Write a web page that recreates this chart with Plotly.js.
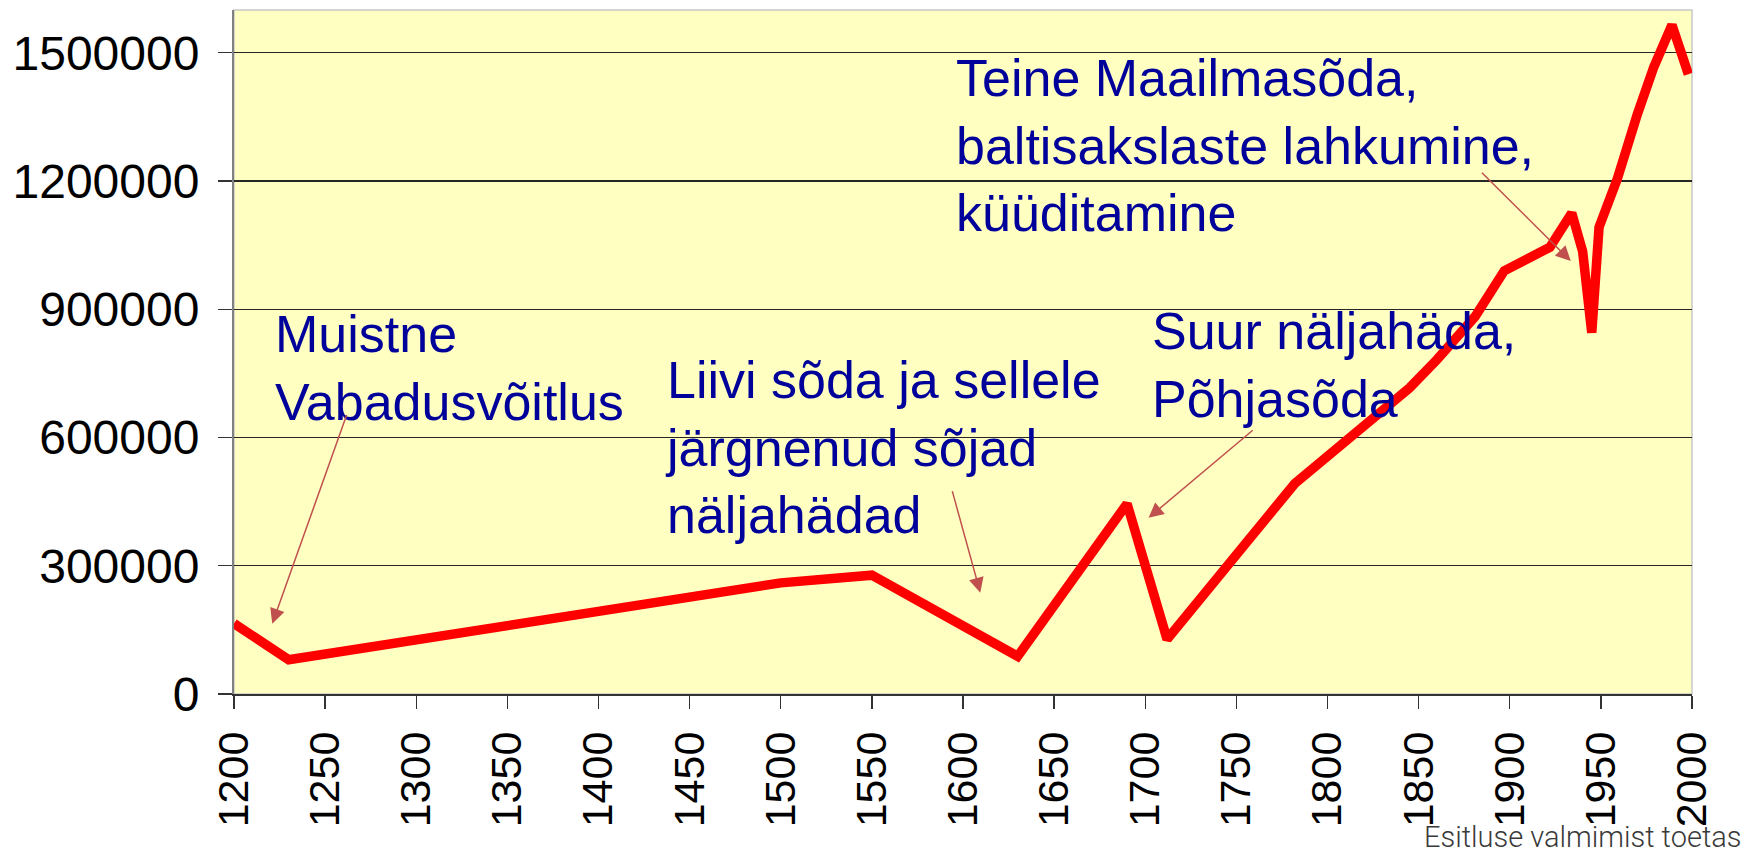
<!DOCTYPE html>
<html>
<head>
<meta charset="utf-8">
<script src="https://cdn.plot.ly/plotly-3.0.1.min.js"></script>
<style>
  html, body { margin: 0; padding: 0; background: #ffffff; }
  #chart { width: 1757px; height: 857px; }
</style>
</head>
<body>
<div id="chart"></div>
<script>
// Estonian population over time
const years = [1200, 1230, 1500, 1550, 1630, 1690, 1712, 1782, 1845, 1860, 1881, 1897, 1922, 1934, 1940, 1945, 1949, 1959, 1970, 1979, 1989, 1998];
const population = [165000, 80000, 260000, 278000, 88000, 445000, 128000, 492000, 716000, 782000, 883000, 990000, 1045000, 1125000, 1035000, 845000, 1092000, 1205000, 1356000, 1466000, 1565000, 1450000];

const xTickValues = [1200, 1250, 1300, 1350, 1400, 1450, 1500, 1550, 1600, 1650, 1700, 1750, 1800, 1850, 1900, 1950, 2000];
const yTickValues = [0, 300000, 600000, 900000, 1200000, 1500000];

// Event labels: [text, left year, top value]
const eventLabels = [
  ["Muistne<br>Vabadusvõitlus", 1221.5, 914000],
  ["Liivi sõda ja sellele<br>järgnenud sõjad<br>näljahädad", 1435.5, 808000],
  ["Teine Maailmasõda,<br>baltisakslaste lahkumine,<br>küüditamine", 1594.8, 1514000],
  ["Suur näljahäda,<br>Põhjasõda", 1702.5, 922000]
];
// Arrows: [head year, head value, tail year, tail value]
const eventArrows = [
  [1221.0, 164600, 1262.1, 656000],
  [1609.5, 237000, 1593.9, 478000],
  [1701.8, 412000, 1759.8, 620000],
  [1933.5, 1012600, 1883.9, 1223000]
];
const creditText = "Esitluse valmimist toetas";

const annotations = [];
eventLabels.forEach(l => annotations.push({
  text: l[0], x: l[1], y: l[2], xref: 'x', yref: 'y',
  xanchor: 'left', yanchor: 'top', align: 'left', showarrow: false,
  font: { family: 'Arial, "Liberation Sans", sans-serif', size: 52, color: '#00009a' }
}));
eventArrows.forEach(a => annotations.push({
  text: '', x: a[0], y: a[1], ax: a[2], ay: a[3],
  xref: 'x', yref: 'y', axref: 'x', ayref: 'y',
  showarrow: true, arrowhead: 2, arrowsize: 2, arrowwidth: 1.5,
  arrowcolor: '#c0504d', standoff: 0, startstandoff: 0
}));
annotations.push({
  text: creditText, xref: 'paper', yref: 'paper', x: 1.0343, y: -0.2355,
  xanchor: 'right', yanchor: 'bottom', showarrow: false, borderpad: 0,
  font: { family: 'Roboto, sans-serif', size: 29, color: '#3a3a3a', weight: 300 }
});

const trace = {
  x: years, y: population, type: 'scatter', mode: 'lines',
  line: { color: '#ff0000', width: 9.5 },
  hoverinfo: 'skip'
};

const layout = {
  width: 1757, height: 857,
  margin: { l: 234, r: 65, t: 10, b: 163, pad: 0 },
  paper_bgcolor: '#ffffff',
  plot_bgcolor: '#ffffc2',
  showlegend: false,
  xaxis: {
    range: [1200, 2000], tickmode: 'array', tickvals: xTickValues,
    ticktext: xTickValues.map(String), tickangle: -90,
    ticks: 'outside', ticklen: 13, tickcolor: '#333333', tickwidth: 1.3,
    ticklabelstandoff: 6,
    showgrid: false, zeroline: false,
    showline: true, linecolor: '#333333', linewidth: 1.5,
    tickfont: { family: 'Arial, "Liberation Sans", sans-serif', size: 43, color: '#000000' },
    fixedrange: true
  },
  yaxis: {
    range: [0, 1600000], tickmode: 'array', tickvals: yTickValues,
    ticktext: yTickValues.map(String),
    ticks: 'outside', ticklen: 14, tickcolor: '#333333', tickwidth: 1.3,
    ticklabelstandoff: 9,
    showgrid: true, gridcolor: '#262626', gridwidth: 1.2,
    zeroline: false,
    showline: true, linecolor: '#808080', linewidth: 2,
    tickfont: { family: 'Arial, "Liberation Sans", sans-serif', size: 48, color: '#000000' },
    fixedrange: true
  },
  shapes: [{
    type: 'rect', xref: 'paper', yref: 'paper', x0: 0, x1: 1, y0: 0, y1: 1,
    line: { color: '#c8c8c8', width: 1.5 }, layer: 'below'
  }],
  annotations: annotations
};

Plotly.newPlot('chart', [trace], layout, { staticPlot: true, displayModeBar: false });
</script>
</body>
</html>
